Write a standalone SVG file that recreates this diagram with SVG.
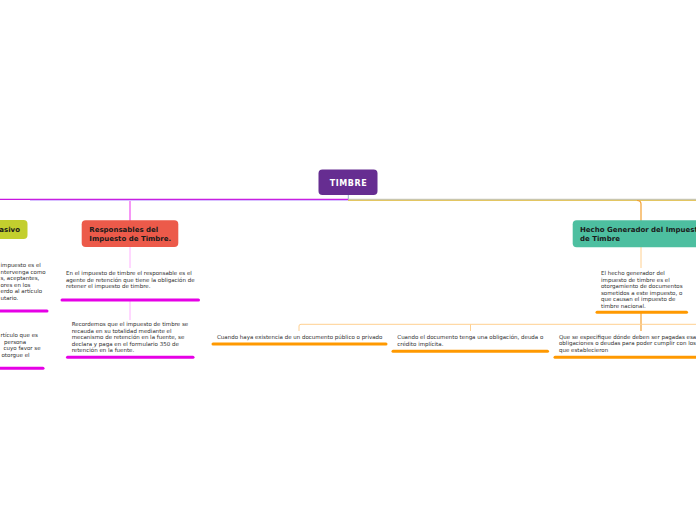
<svg xmlns="http://www.w3.org/2000/svg" width="696" height="520" viewBox="0 0 696 520">
<style>
.t{font-family:"DejaVu Sans","Verdana",sans-serif;font-size:5.5px;fill:#2e2e2e}
.b{font-family:"DejaVu Sans","Verdana",sans-serif;font-size:7px;font-weight:bold;fill:#1a1a1a}
.ulm{stroke:#e600e6;stroke-width:3;stroke-linecap:round;fill:none}
.ulo{stroke:#ff9900;stroke-width:3;stroke-linecap:round;fill:none}
.cm{stroke:#f050f0;stroke-width:1.2;fill:none}
.cml{stroke:#ffb0ff;stroke-width:1;fill:none}
.co{stroke:#f4a030;stroke-width:1.2;fill:none}
.col{stroke:#ffd090;stroke-width:1;fill:none}
</style>
<rect width="696" height="520" fill="#fff"/>
<g id="connectors">
<line x1="348.3" y1="195" x2="348.3" y2="200" stroke="#9ab0d0" stroke-width="1"/>
<line x1="0" y1="199.3" x2="348" y2="199.3" stroke="#c814e0" stroke-width="1.2"/>
<line x1="30" y1="200.4" x2="348" y2="200.4" stroke="#c8a8ff" stroke-width="0.8"/>
<line x1="348" y1="199.3" x2="696" y2="199.3" stroke="#b8b8a8" stroke-width="1"/>
<line x1="348" y1="200.4" x2="696" y2="200.4" stroke="#e0c050" stroke-width="1"/>
<path class="cm" d="M130,201 V221"/>
<path class="cml" d="M130,247 V268"/>
<path class="cml" d="M130,301 V320"/>
<path class="co" d="M637,200.5 Q641,200.5 641,204 V221"/>
<path class="col" d="M641,247 V268"/>
<path class="co" d="M641,313 V331"/>
<path class="col" d="M299,331 V326 Q299,324.3 301,324.3 H696"/>
<path class="col" d="M470.5,324.3 V331"/>
</g>
<g id="timbre">
<rect x="318.5" y="169.5" width="59" height="25.5" rx="4" fill="#662d91"/>
<text x="348.5" y="186" text-anchor="middle" font-family="DejaVu Sans,Verdana,sans-serif" font-size="8" font-weight="bold" letter-spacing="0.6" fill="#fff">TIMBRE</text>
</g>
<g id="sujeto-pasivo">
<rect x="-40" y="220" width="67.5" height="19" rx="4" fill="#c3cf2e"/>
<text class="b" x="20" y="231.8" text-anchor="end">asivo</text>
</g>
<g id="sujeto-texto-1">
<text class="t"><tspan x="0.5" y="267">impuesto es el</tspan><tspan x="0.5" y="273.5">ntervenga como</tspan><tspan x="0.5" y="280">s, aceptantes,</tspan><tspan x="0.5" y="286.5">ores en los</tspan><tspan x="0.5" y="293">erdo al artículo</tspan><tspan x="0.5" y="299.5">utario.</tspan></text>
<line class="ulm" x1="0" y1="311" x2="47" y2="311"/>
</g>
<g id="sujeto-texto-2">
<text class="t"><tspan x="0.5" y="337">rtículo que es</tspan><tspan x="4" y="343.6">persona</tspan><tspan x="3.5" y="350.2">cuyo favor se</tspan><tspan x="1.5" y="356.8">otorgue el</tspan></text>
<line class="ulm" x1="0" y1="368.3" x2="43" y2="368.3"/>
</g>
<g id="responsables">
<rect x="81.7" y="220.3" width="96.6" height="26.7" rx="4" fill="#ec5a4a"/>
<text class="b"><tspan x="89.3" y="232.3">Responsables del</tspan><tspan x="89.3" y="241.3">Impuesto de Timbre.</tspan></text>
</g>
<g id="responsables-texto-1">
<text class="t"><tspan x="66" y="275">En el impuesto de timbre el responsable es el</tspan><tspan x="66" y="281.7">agente de retención que tiene la obligación de</tspan><tspan x="66" y="288.4">retener el impuesto de timbre.</tspan></text>
<line class="ulm" x1="62" y1="300" x2="198.5" y2="300"/>
</g>
<g id="responsables-texto-2">
<text class="t"><tspan x="71.7" y="325.8">Recordemos que el impuesto de timbre se</tspan><tspan x="71.7" y="332.5">recauda en su totalidad mediante el</tspan><tspan x="71.7" y="339.1">mecanismo de retención en la fuente, se</tspan><tspan x="71.7" y="345.8">declara y paga en el formulario 350 de</tspan><tspan x="71.7" y="352.4">retención en la fuente.</tspan></text>
<line class="ulm" x1="67.5" y1="357.3" x2="193" y2="357.3"/>
</g>
<g id="hecho-generador">
<rect x="572.7" y="220.3" width="140" height="27" rx="4" fill="#4dbfa0"/>
<text class="b"><tspan x="580" y="232.3">Hecho Generador del Impuesto</tspan><tspan x="580" y="241.3">de Timbre</tspan></text>
</g>
<g id="hecho-texto">
<text class="t"><tspan x="601" y="275">El hecho generador del</tspan><tspan x="601" y="281.7">impuesto de timbre es el</tspan><tspan x="601" y="288.2">otorgamiento de documentos</tspan><tspan x="601" y="294.8">sometidos a este impuesto, o</tspan><tspan x="601" y="301.2">que causan el impuesto de</tspan><tspan x="601" y="307.8">timbre nacional.</tspan></text>
<line class="ulo" x1="597" y1="312.3" x2="686.5" y2="312.3"/>
</g>
<g id="hecho-1">
<text class="t" x="217" y="338.5">Cuando haya existencia de un documento público o privado</text>
<line class="ulo" x1="213" y1="344" x2="386" y2="344"/>
</g>
<g id="hecho-2">
<text class="t"><tspan x="397.3" y="338.5">Cuando el documento tenga una obligación, deuda o</tspan><tspan x="397.3" y="345.5">crédito implícita.</tspan></text>
<line class="ulo" x1="393" y1="351.3" x2="547.5" y2="351.3"/>
</g>
<g id="hecho-3">
<text class="t"><tspan x="559" y="338.5">Que se especifique dónde deben ser pagadas esas</tspan><tspan x="559" y="345.3">obligaciones o deudas para poder cumplir con los</tspan><tspan x="559" y="351.8">que establecieron</tspan></text>
<line class="ulo" x1="555" y1="357.3" x2="720" y2="357.3"/>
</g>
</svg>
